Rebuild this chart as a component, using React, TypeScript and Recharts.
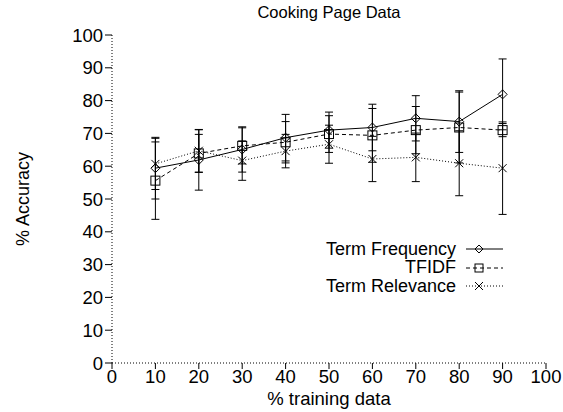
import React from 'react';
import { LineChart, Line, XAxis, YAxis, ErrorBar } from 'recharts';

const FONT = '"Liberation Sans", Arial, Helvetica, sans-serif';

const trainingPct = [10, 20, 30, 40, 50, 60, 70, 80, 90];
const termFreq = [59.4, 61.9, 65.1, 68.7, 71.0, 71.8, 74.6, 73.6, 81.9];
const termFreqErr = [9.4, 9.2, 6.9, 7.1, 5.5, 7.1, 6.9, 9.4, 10.8];
const tfidf = [55.6, 63.9, 66.2, 67.3, 69.8, 69.4, 71.0, 71.8, 71.0];
const tfidfErr = [11.8, 5.8, 5.5, 6.3, 5.6, 8.2, 7.2, 10.8, 2.0];
const termRel = [60.7, 64.7, 61.7, 64.6, 66.7, 62.2, 62.7, 60.9, 59.4];
const termRelErr = [7.8, 6.5, 6.0, 5.1, 5.8, 6.9, 7.4, 9.9, 14.1];

const xTicks = [0, 10, 20, 30, 40, 50, 60, 70, 80, 90, 100];
const yTicks = [0, 10, 20, 30, 40, 50, 60, 70, 80, 90, 100];

const data = trainingPct.map((x, i) => ({
  x,
  tf: termFreq[i],
  tfErr: termFreqErr[i],
  tfidf: tfidf[i],
  tfidfErr: tfidfErr[i],
  tr: termRel[i],
  trErr: termRelErr[i],
}));

// marker shapes, drawn like the old gnuplot points
function Diamond({ cx, cy, s = 4.5 }: any) {
  return (
    <polygon
      points={`${cx},${cy - s} ${cx + s},${cy} ${cx},${cy + s} ${cx - s},${cy}`}
      fill="none"
      stroke="#000"
      strokeWidth={1}
    />
  );
}

function Square({ cx, cy, s = 4.5 }: any) {
  return <rect x={cx - s} y={cy - s} width={s * 2} height={s * 2} fill="none" stroke="#000" strokeWidth={1} />;
}

function Cross({ cx, cy, s = 4 }: any) {
  return (
    <g stroke="#000" strokeWidth={1}>
      <line x1={cx - s} y1={cy - s} x2={cx + s} y2={cy + s} />
      <line x1={cx - s} y1={cy + s} x2={cx + s} y2={cy - s} />
    </g>
  );
}

const series = [
  { key: 'tf', err: 'tfErr', name: 'Term Frequency', dash: undefined, Shape: Diamond },
  { key: 'tfidf', err: 'tfidfErr', name: 'TFIDF', dash: '4 3', Shape: Square },
  { key: 'tr', err: 'trErr', name: 'Term Relevance', dash: '1 2', Shape: Cross },
];

function LegendBox() {
  return (
    <div
      style={{
        position: 'absolute',
        left: 263,
        top: 240,
        width: 240,
        fontFamily: FONT,
        fontSize: 18,
        color: '#000',
      }}
    >
      {series.map((s) => (
        <div key={s.key} style={{ display: 'flex', justifyContent: 'flex-end', alignItems: 'center', height: 18.5 }}>
          <span style={{ lineHeight: '17px' }}>{s.name}</span>
          <svg width={37} height={18} style={{ marginLeft: 10 }}>
            <line x1={0} y1={9} x2={37} y2={9} stroke="#000" strokeWidth={1} strokeDasharray={s.dash} />
            <s.Shape cx={13} cy={9} s={4} />
          </svg>
        </div>
      ))}
    </div>
  );
}

export default function App() {
  return (
    <div style={{ position: 'absolute', left: 0, top: 0, width: 563, height: 412, background: '#fff' }}>
      <div
        style={{
          position: 'absolute',
          left: 112,
          width: 434,
          top: 3,
          textAlign: 'center',
          fontFamily: FONT,
          fontSize: 16.5,
          color: '#000',
        }}
      >
        Cooking Page Data
      </div>
      <LineChart width={563} height={412} data={data} margin={{ top: 35, right: 17, bottom: 0, left: 0 }}>
        <XAxis
          type="number"
          dataKey="x"
          domain={[0, 100]}
          ticks={xTicks}
          interval={0}
          height={49}
          tickSize={6}
          tickMargin={1}
          axisLine={{ stroke: '#000', strokeDasharray: '1 2' }}
          tickLine={{ stroke: '#000' }}
          tick={{ fill: '#000', fontSize: 18.5, fontFamily: FONT }}
          label={{
            content: (p: any) => {
              const vb = p.viewBox || { x: 112, width: 434, y: 363 };
              return (
                <text
                  x={vb.x + vb.width / 2}
                  y={vb.y + 42}
                  textAnchor="middle"
                  fill="#000"
                  fontSize={18.5}
                  fontFamily={FONT}
                >
                  % training data
                </text>
              );
            },
          }}
        />
        <YAxis
          type="number"
          domain={[0, 100]}
          ticks={yTicks}
          interval={0}
          width={112}
          tickSize={7}
          tickMargin={2}
          axisLine={{ stroke: '#000', strokeDasharray: '1 2' }}
          tickLine={{ stroke: '#000' }}
          tick={{ fill: '#000', fontSize: 18.5, fontFamily: FONT }}
          label={{
            content: (p: any) => {
              const vb = p.viewBox || { y: 35, height: 328 };
              const cy = vb.y + vb.height / 2;
              return (
                <text
                  x={29}
                  y={cy}
                  transform={`rotate(-90 29 ${cy})`}
                  textAnchor="middle"
                  fill="#000"
                  fontSize={18}
                  fontFamily={FONT}
                >
                  % Accuracy
                </text>
              );
            },
          }}
        />
        {series.map((s) => (
          <Line
            key={s.key}
            type="linear"
            dataKey={s.key}
            name={s.name}
            stroke="#000"
            strokeWidth={1}
            strokeDasharray={s.dash}
            isAnimationActive={false}
            dot={(p: any) => <s.Shape key={`${s.key}-${p.index}`} cx={p.cx} cy={p.cy} />}
            activeDot={false}
          >
            <ErrorBar dataKey={s.err} width={4} stroke="#000" strokeWidth={1} direction="y" isAnimationActive={false} />
          </Line>
        ))}
      </LineChart>
      <LegendBox />
    </div>
  );
}
